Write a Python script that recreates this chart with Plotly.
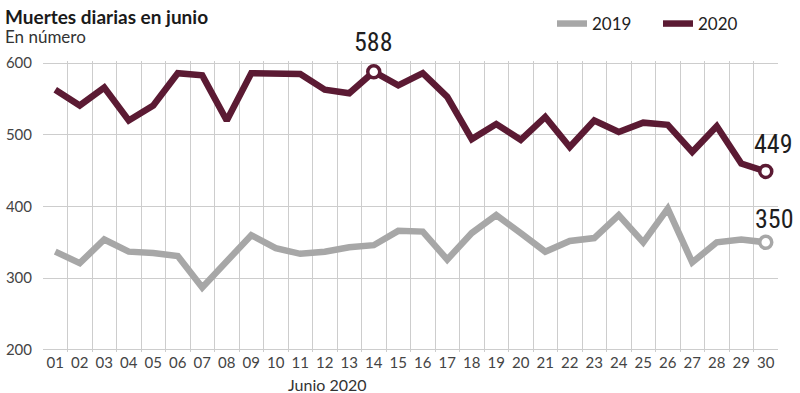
import plotly.graph_objects as go

days = list(range(1, 31))
day_labels = [f"{d:02d}" for d in days]
deaths_2019 = [337, 321, 354, 337, 335, 331, 287, 323, 360, 342, 334, 337, 343, 346, 366,
               365, 326, 363, 388, 363, 337, 352, 356, 388, 350, 397, 322, 350, 354, 350]
deaths_2020 = [563, 541, 566, 520, 541, 586, 583, 520, 586, 585, 585, 563, 558, 588, 569,
               586, 553, 494, 515, 493, 525, 483, 520, 504, 517, 514, 476, 512, 460, 449]
y_ticks = [200, 300, 400, 500, 600]

GRAY = "#a7a7a7"
MAROON = "#5b1a33"
GRID = "#cdcdcd"
FONT = "Lato, 'Open Sans', sans-serif"
NARROW = "'Roboto Condensed', 'Liberation Sans Narrow', Roboto, sans-serif"

W, H = 800, 393
L, R, T, B = 43, 22, 61, 41
PW, PH = W - L - R, H - T - B


def px_x(px):
    return (px - L) / PW


def px_y(py):
    return (H - B - py) / PH


fig = go.Figure()
fig.add_trace(go.Scatter(x=days, y=deaths_2019, mode="lines", name="2019",
                         line=dict(color=GRAY, width=6.5), hoverinfo="skip"))
fig.add_trace(go.Scatter(x=days, y=deaths_2020, mode="lines", name="2020",
                         line=dict(color=MAROON, width=6.5), hoverinfo="skip"))

i_max = deaths_2020.index(max(deaths_2020))
fig.add_trace(go.Scatter(x=[days[i_max], days[-1]], y=[deaths_2020[i_max], deaths_2020[-1]],
                         mode="markers", showlegend=False, hoverinfo="skip",
                         marker=dict(size=12, color="white", line=dict(color=MAROON, width=3.5))))
fig.add_trace(go.Scatter(x=[days[-1]], y=[deaths_2019[-1]],
                         mode="markers", showlegend=False, hoverinfo="skip",
                         marker=dict(size=12, color="white", line=dict(color=GRAY, width=3.5))))

ann_font = dict(family=NARROW, size=26, color="#1e1e1e")
fig.add_annotation(x=days[i_max], y=deaths_2020[i_max], text=str(deaths_2020[i_max]),
                   showarrow=False, yshift=30, font=ann_font)
fig.add_annotation(x=days[-1], y=deaths_2020[-1], text=str(deaths_2020[-1]),
                   showarrow=False, yshift=27, xshift=8, font=ann_font)
fig.add_annotation(x=days[-1], y=deaths_2019[-1], text=str(deaths_2019[-1]),
                   showarrow=False, yshift=23, xshift=9, font=ann_font)

fig.add_annotation(xref="paper", yref="paper", x=px_x(3), y=px_y(3),
                   xanchor="left", yanchor="top",
                   text="<b>Muertes diarias en junio</b>", showarrow=False,
                   font=dict(family=FONT, size=19, color="#1a1a1a"))
fig.add_annotation(xref="paper", yref="paper", x=px_x(3), y=px_y(24),
                   xanchor="left", yanchor="top",
                   text="En número", showarrow=False,
                   font=dict(family=FONT, size=17, color="#333"))
fig.add_annotation(xref="paper", yref="paper", x=px_x(327), y=px_y(384),
                   xanchor="center", yanchor="middle",
                   text="Junio 2020", showarrow=False,
                   font=dict(family=FONT, size=16, color="#333"))

fig.update_layout(
    width=W, height=H,
    margin=dict(l=L, r=R, t=T, b=B, autoexpand=False),
    paper_bgcolor="white", plot_bgcolor="white",
    showlegend=True,
    legend=dict(orientation="h", x=px_x(552), y=px_y(6), xanchor="left", yanchor="top",
                font=dict(family=FONT, size=17, color="#222"),
                itemwidth=30, entrywidth=61, entrywidthmode="pixels",
                bgcolor="rgba(0,0,0,0)"),
    font=dict(family=FONT, color="#444"),
)

fig.update_xaxes(range=[0.5, 30.5], tickmode="array", tickvals=days, ticktext=day_labels,
                 showgrid=False, zeroline=False, showline=False, ticks="",
                 tickfont=dict(family=FONT, size=15, color="#444"),
                 minor=dict(tickmode="array", tickvals=[d + 0.5 for d in days[:-1]],
                            showgrid=True, gridcolor=GRID, gridwidth=1, ticks=""),
                 fixedrange=True)
fig.update_yaxes(range=[197, 603], tickmode="array", tickvals=y_ticks,
                 showgrid=True, gridcolor=GRID, gridwidth=1, zeroline=False,
                 ticks="", ticklabelstandoff=10,
                 tickfont=dict(family=FONT, size=15, color="#444"),
                 fixedrange=True)

fig.write_html("out.html", config={"displayModeBar": False},
               post_script="document.body.style.margin='0px';")
